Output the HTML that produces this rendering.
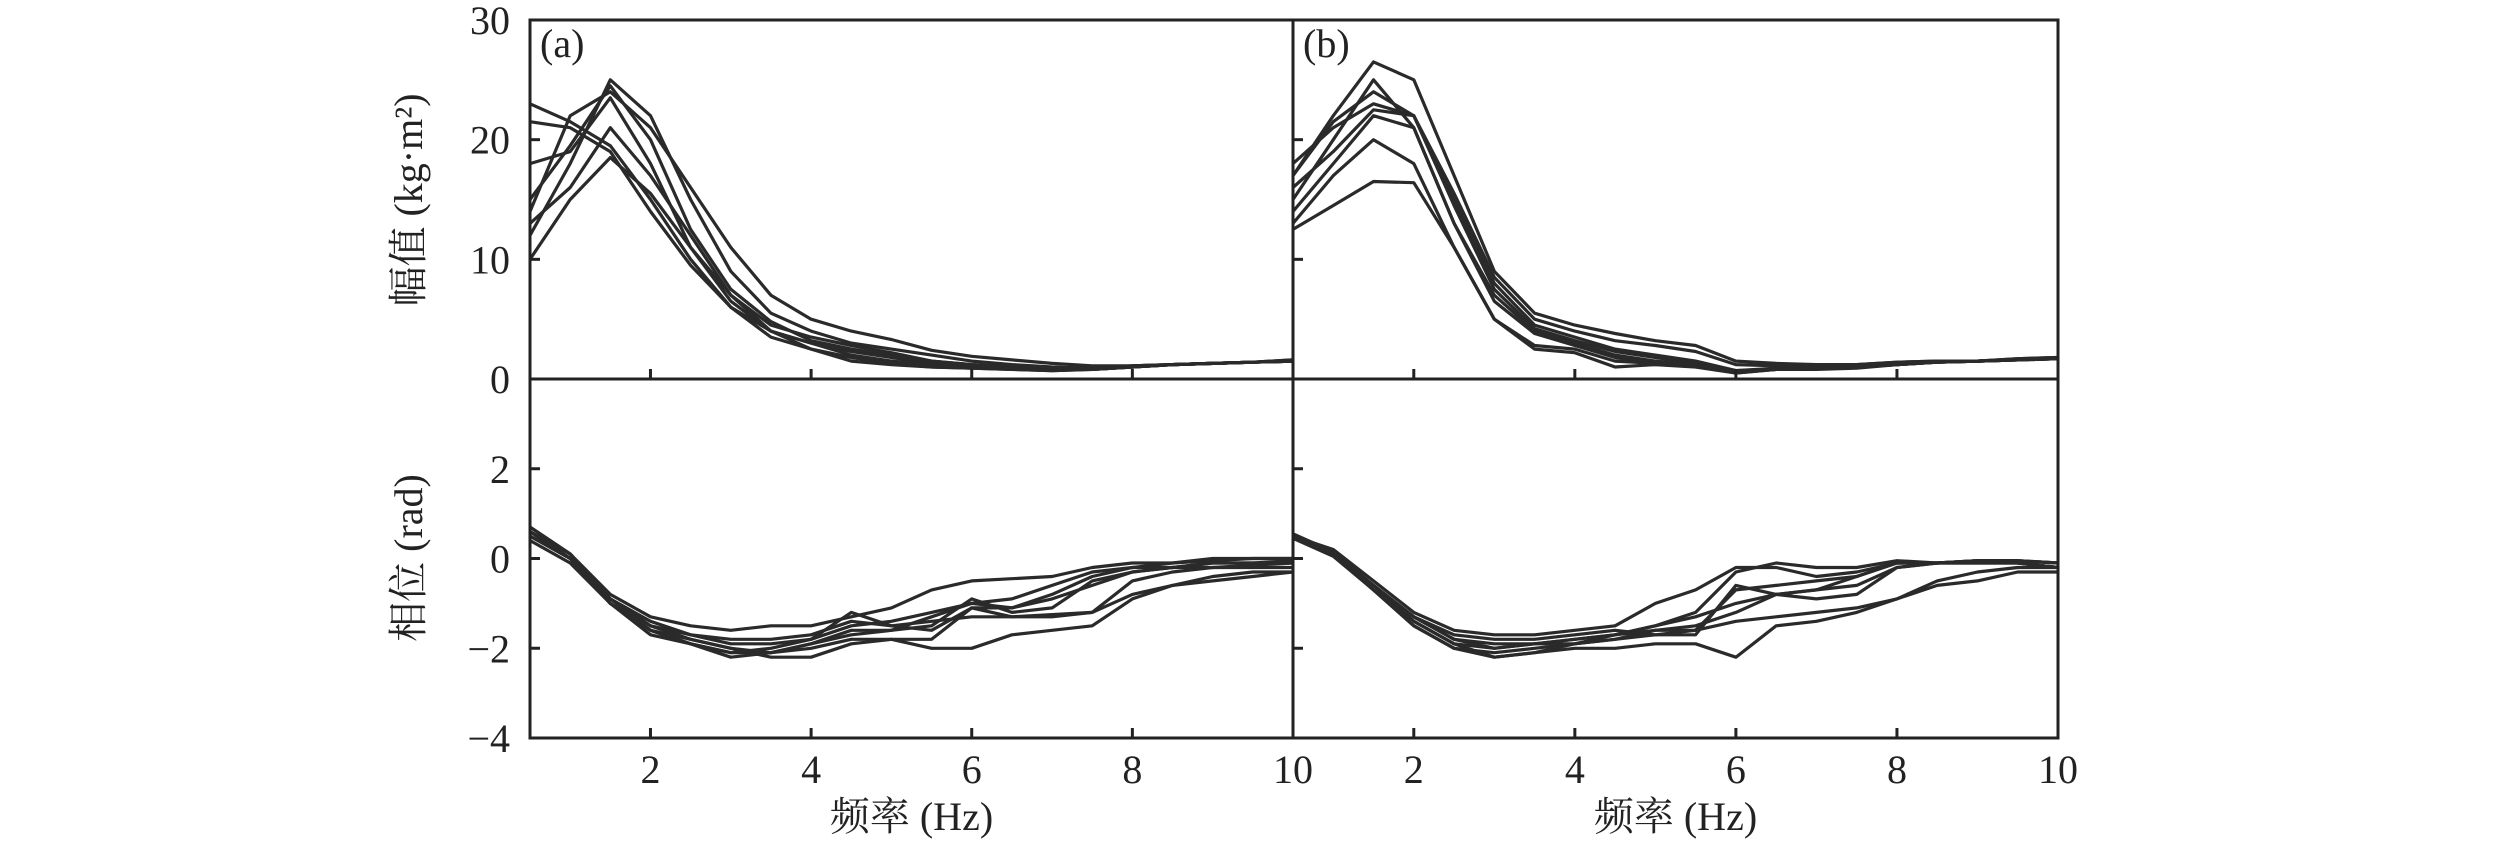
<!DOCTYPE html>
<html><head><meta charset="utf-8"><style>
html,body{margin:0;padding:0;background:#fff;}
svg{display:block;}
text{font-family:"Liberation Serif","Noto Serif CJK SC",serif;fill:#222;}
</style></head><body>
<svg id="chart" width="2520" height="845" viewBox="0 0 2520 845" xmlns="http://www.w3.org/2000/svg"></svg>
<script>
const freqs=[0.5,1,1.5,2,2.5,3,3.5,4,4.5,5,5.5,6,6.5,7,7.5,8,8.5,9,9.5,10];
const xTicks=[2,4,6,8,10];
const ampTicks=[0,10,20,30];
const phaseTicks=[-4,-2,0,2];
const ampA=[
[23,21.5,19.5,15,10,6,3.5,2.5,1.5,1.2,1,0.9,0.8,0.7,0.8,1,1.2,1.3,1.4,1.5],
[21.5,21,19,14,9.5,6,4,3,2.3,1.8,1.3,1,0.9,0.8,0.8,1,1.2,1.3,1.4,1.5],
[18,19,23.5,18,11,6.5,4,3,2,1.5,1.2,1,0.9,0.8,0.8,1,1.2,1.3,1.4,1.5],
[15,19.5,24.5,20,12.5,7.5,4.8,3.2,2.5,2,1.5,1.2,1,0.9,0.9,1.1,1.2,1.3,1.4,1.6],
[12,18,25,22,15,9,5.5,4,3,2.5,2,1.5,1.2,1,0.9,1,1.2,1.3,1.4,1.5],
[13,16,21,17,12,7,4,2.5,1.8,1.3,1,0.9,0.8,0.7,0.8,1,1.2,1.3,1.4,1.5],
[10,15,18.5,15.5,11,7,4.5,3.5,2.8,2.2,1.5,1.2,1,0.9,0.9,1.1,1.2,1.3,1.4,1.5],
[14,22,24,21,16,11,7,5,4,3.3,2.4,1.9,1.6,1.3,1.1,1.1,1.2,1.3,1.4,1.6]];
const phaseA=[
[0.7,0.1,-0.8,-1.3,-1.5,-1.6,-1.5,-1.5,-1.3,-1.1,-0.7,-0.5,-0.45,-0.4,-0.2,-0.1,-0.1,-0.05,0,0],
[0.6,0,-0.9,-1.4,-1.7,-1.9,-1.9,-1.8,-1.5,-1.4,-1.2,-1,-1.1,-0.9,-0.6,-0.3,-0.2,-0.1,-0.1,-0.05],
[0.5,0,-1,-1.6,-1.9,-2.1,-2.1,-1.9,-1.7,-1.6,-1.5,-0.9,-1.2,-1.1,-0.5,-0.3,-0.2,-0.2,-0.15,-0.1],
[0.7,0.1,-0.9,-1.5,-1.8,-2,-2.2,-2.2,-1.9,-1.8,-1.8,-1.1,-1.3,-1.3,-1.2,-0.8,-0.6,-0.5,-0.4,-0.3],
[0.4,-0.1,-1,-1.7,-1.9,-2.2,-2.1,-2,-1.8,-1.8,-2,-2,-1.7,-1.6,-1.5,-0.9,-0.6,-0.4,-0.3,-0.3],
[0.6,0,-0.9,-1.5,-1.7,-1.8,-1.8,-1.7,-1.4,-1.5,-1.4,-1.3,-1.3,-1.25,-1.2,-0.5,-0.3,-0.2,-0.2,-0.2],
[0.5,0,-1,-1.6,-1.8,-2,-2.1,-1.9,-1.6,-1.6,-1.3,-1,-0.9,-0.6,-0.3,-0.2,-0.2,-0.1,-0.1,-0.1],
[0.6,0.1,-0.9,-1.6,-1.9,-2.1,-2,-1.8,-1.2,-1.5,-1.6,-1.1,-1.1,-0.8,-0.4,-0.2,-0.1,0,0,0]];
const ampB=[
[17,22,26.5,25,17,9,5.5,4.5,3.8,3.2,2.8,1.5,1.3,1.2,1.2,1.4,1.5,1.5,1.7,1.8],
[15,20,25,21,13,7,4,3,2,1.5,1.2,0.5,0.8,0.8,0.9,1.2,1.4,1.5,1.6,1.7],
[17,21.5,24,22,15,8,4.5,3.5,2.5,2,1.5,0.7,0.9,1,1.1,1.3,1.4,1.5,1.6,1.8],
[18,21,23,22,14.5,7.5,4.2,3.2,2.3,1.8,1.3,0.6,0.8,0.9,1,1.2,1.4,1.5,1.6,1.7],
[14,18,22,21,13,6.5,3.8,2.8,1.8,1.3,1.2,0.7,0.8,0.9,1,1.2,1.4,1.5,1.6,1.7],
[13,17,20,18,11,5,2.8,2.5,1.5,1.3,1.2,0.6,0.8,0.9,1,1.2,1.4,1.5,1.6,1.7],
[12.5,14.5,16.5,16.4,11,5,2.5,2.2,1,1.2,1,0.5,0.8,0.9,1,1.2,1.4,1.5,1.6,1.7],
[16,19,22.5,22,15.5,8.5,5,4,3.2,2.8,2.3,1.2,1.1,1.1,1.2,1.4,1.5,1.5,1.7,1.8]];
const phaseB=[
[0.5,0.2,-0.5,-1.2,-1.6,-1.7,-1.7,-1.6,-1.5,-1,-0.7,-0.2,-0.2,-0.4,-0.3,-0.1,-0.1,-0.05,-0.05,-0.1],
[0.5,0.1,-0.6,-1.3,-1.8,-2,-1.9,-1.8,-1.7,-1.5,-1.2,-0.3,-0.1,-0.2,-0.2,-0.05,-0.1,-0.05,-0.05,-0.1],
[0.45,0.1,-0.7,-1.5,-2,-2.1,-2,-1.9,-1.8,-1.7,-1.6,-0.7,-0.6,-0.5,-0.4,-0.1,-0.1,-0.1,-0.1,-0.2],
[0.5,0.1,-0.6,-1.4,-1.9,-2.2,-2.1,-1.9,-1.8,-1.6,-1.5,-1.2,-0.8,-0.9,-0.8,-0.2,-0.1,-0.1,-0.1,-0.2],
[0.45,0.05,-0.7,-1.5,-2,-2.2,-2.1,-2,-2,-1.9,-1.9,-2.2,-1.5,-1.4,-1.2,-0.9,-0.6,-0.5,-0.3,-0.3],
[0.5,0.1,-0.6,-1.3,-1.8,-1.9,-1.9,-1.8,-1.7,-1.6,-1.6,-1.4,-1.3,-1.2,-1.1,-0.9,-0.5,-0.3,-0.2,-0.2],
[0.5,0.1,-0.7,-1.4,-1.9,-2,-1.9,-1.9,-1.7,-1.5,-1.3,-1,-0.8,-0.7,-0.4,-0.1,-0.1,-0.05,-0.1,-0.2],
[0.55,0.15,-0.6,-1.3,-1.7,-1.8,-1.8,-1.7,-1.6,-1.7,-1.7,-0.6,-0.8,-0.7,-0.6,-0.2,-0.1,-0.05,-0.05,-0.1]];

const NS="http://www.w3.org/2000/svg";
const svg=document.getElementById('chart');
function mk(tag,attrs,parent){const e=document.createElementNS(NS,tag);for(const k in attrs)e.setAttribute(k,attrs[k]);(parent||svg).appendChild(e);return e;}
const TOP=20,MID=379,BOT=738;
const panelsX=[[530,1293],[1293,2058]];
function xs(p,v){const [l,r]=panelsX[p];return l+(v-0.5)/(10-0.5)*(r-l);}
function yAmp(v){return MID-(v-0)/30*(MID-TOP);}
function yPh(v){return BOT-(v+4)/8*(BOT-MID);}

function drawSeries(p,data,yf,name){
  const g=mk('g',{});
  
  
  data.forEach((s,i)=>{
    const d=s.map((v,j)=>(j?'L':'M')+xs(p,freqs[j]).toFixed(1)+','+yf(v).toFixed(1)).join('');
    const path=mk('path',{d:d,fill:'none',stroke:'#2a2a2a','stroke-width':3.2,'stroke-linejoin':'round'},g);
    
    
  });
}
drawSeries(0,ampA,yAmp,'panel-a-amplitude');
drawSeries(0,phaseA,yPh,'panel-a-phase');
drawSeries(1,ampB,yAmp,'panel-b-amplitude');
drawSeries(1,phaseB,yPh,'panel-b-phase');

// frames
[[0,'panel-a'],[1,'panel-b']].forEach(([p,n])=>{
  const [l,r]=panelsX[p];
  const f1=mk('rect',{x:l,y:TOP,width:r-l,height:MID-TOP,fill:'none',stroke:'#222','stroke-width':3});
  
  
  const f2=mk('rect',{x:l,y:MID,width:r-l,height:BOT-MID,fill:'none',stroke:'#222','stroke-width':3});
  
  
  // x ticks
  xTicks.forEach(t=>{
    const x=xs(p,t);
    mk('line',{x1:x,x2:x,y1:MID,y2:MID-10,stroke:'#222','stroke-width':3});
    mk('line',{x1:x,x2:x,y1:BOT,y2:BOT-10,stroke:'#222','stroke-width':3});
    const tl=mk('text',{x:x,y:783,'font-size':40,'text-anchor':'middle'});
    tl.textContent=t;
    
    
  });
  ampTicks.forEach(t=>{const y=yAmp(t);mk('line',{x1:l,x2:l+10,y1:y,y2:y,stroke:'#222','stroke-width':3});});
  phaseTicks.forEach(t=>{const y=yPh(t);mk('line',{x1:l,x2:l+10,y1:y,y2:y,stroke:'#222','stroke-width':3});});
  const xt=mk('text',{x:(l+r)/2,y:830,'font-size':40,'text-anchor':'middle'});
  xt.textContent='频率 (Hz)';
  
  
  const pl=mk('text',{x:l+10,y:57,'font-size':40});
  pl.textContent=p?'(b)':'(a)';
  
  
});
ampTicks.forEach(t=>{
  const tl=mk('text',{x:510,y:yAmp(t)+14,'font-size':40,'text-anchor':'end'});
  tl.textContent=t;
  
  
});
phaseTicks.forEach(t=>{
  const tl=mk('text',{x:510,y:yPh(t)+14,'font-size':40,'text-anchor':'end'});
  tl.textContent=t<0?'−'+(-t):t;
  
  
});
const ya=mk('text',{x:0,y:0,'font-size':40,'text-anchor':'middle',transform:'translate(422,200) rotate(-90)'});
ya.textContent='幅值 (kg·m²)';


const yp=mk('text',{x:0,y:0,'font-size':40,'text-anchor':'middle',transform:'translate(422,558) rotate(-90)'});
yp.textContent='相位 (rad)';


</script>
</body></html>
